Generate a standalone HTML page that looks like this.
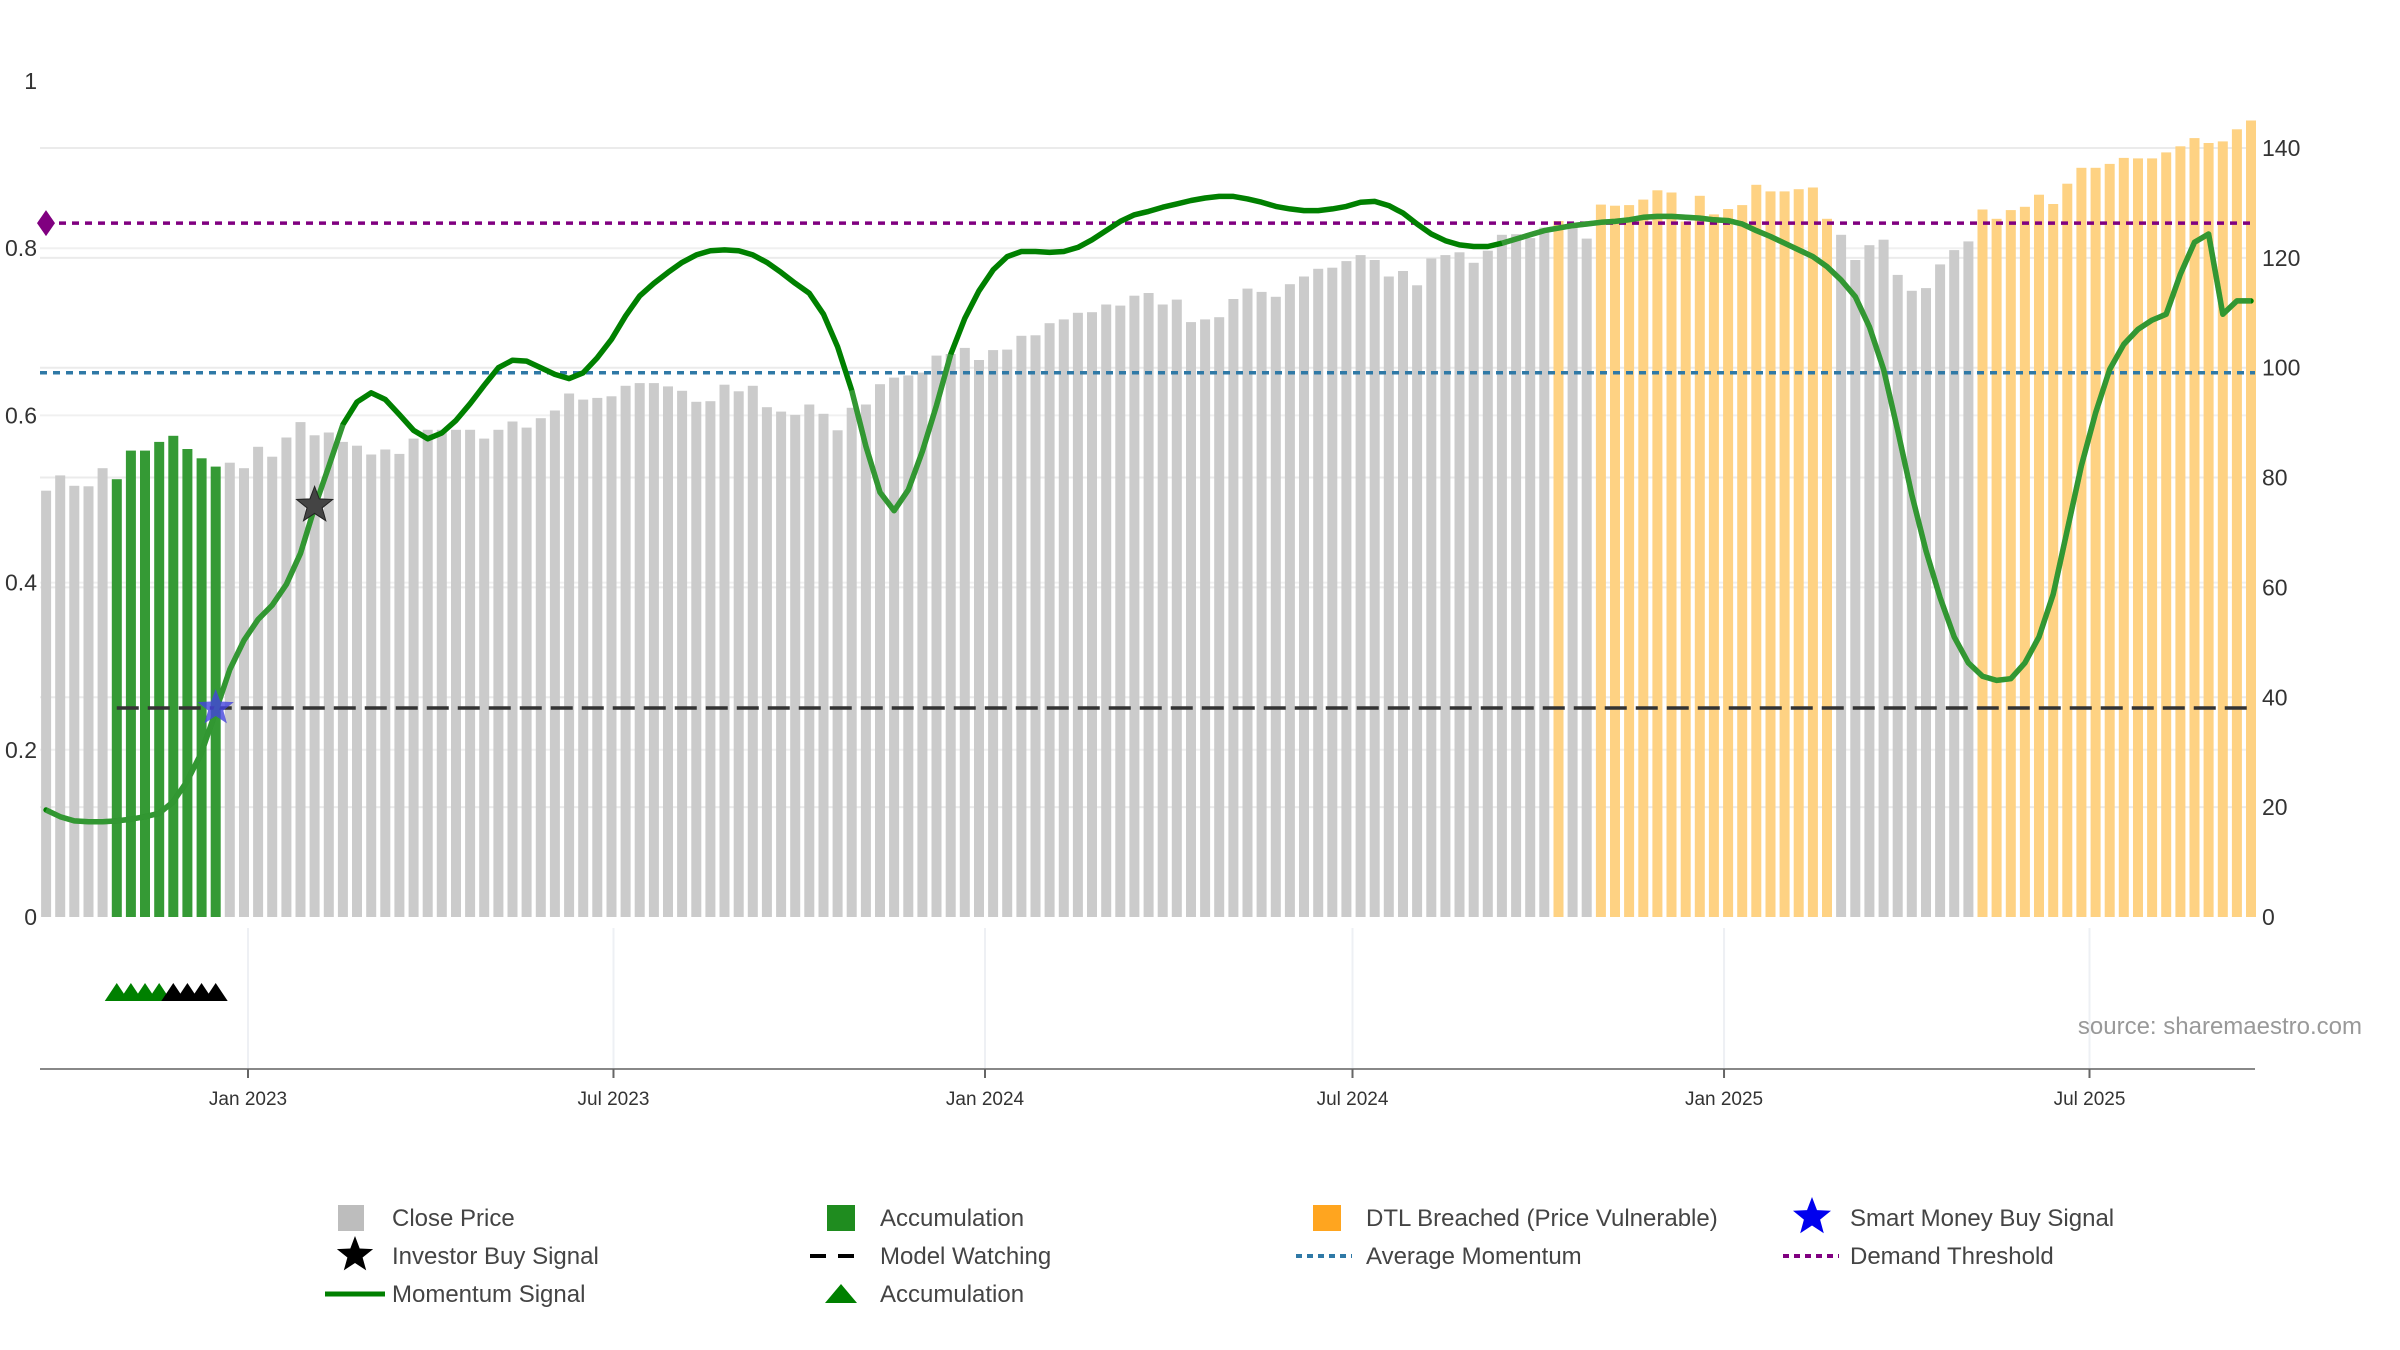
<!DOCTYPE html>
<html><head><meta charset="utf-8"><title>Momentum chart</title>
<style>
html,body{margin:0;padding:0;background:#fff;}
svg{display:block;font-family:"Liberation Sans",sans-serif;}
</style></head>
<body>
<svg id="chart" width="2400" height="1350" viewBox="0 0 2400 1350" xmlns="http://www.w3.org/2000/svg">
  <g id="grid"></g>
  <g id="bars"></g>
  <g id="refs"></g>
  <g id="lines"></g>
  <g id="marks"></g>
  <g id="axes"></g>
  <text x="2362" y="1034" text-anchor="end" font-size="24" fill="#999">source: sharemaestro.com</text>
  <g id="legend"></g>
</svg>
<script>
// ---- data ----
const startDate = "2022-09-23";
const closePrices = [77.6,80.4,78.5,78.4,81.7,79.7,84.9,84.9,86.5,87.6,85.2,83.5,82,82.7,81.7,85.6,83.8,87.3,90.1,87.7,88.2,86.5,85.8,84.2,85.1,84.3,87.1,88.7,88.7,88.7,88.7,87.1,88.7,90.2,89.1,90.8,92.2,95.3,94.2,94.5,94.8,
96.7,97.2,97.2,96.6,95.8,93.8,93.9,96.9,95.7,96.7,92.8,92,91.4,93.3,91.6,88.6,92.7,93.3,97,98.2,98.6,99.1,102.2,102.5,103.6,101.4,103.2,103.3,105.8,105.9,108.1,108.8,110,110.1,111.5,111.3,113.1,113.6,111.5,112.4,108.3,
108.8,109.2,112.5,114.4,113.8,112.9,115.2,116.6,118,118.2,119.4,120.5,119.6,116.6,117.6,115,119.9,120.5,121,119.1,121.3,
124.2,124.3,123.6,125.5,126.7,125.9,123.5,129.7,129.5,129.6,130.6,132.3,131.9,126.6,131.3,127.9,128.9,129.6,133.3,132.1,132.1,132.5,132.8,127.1,124.2,119.6,122.3,123.3,116.9,114,114.5,118.8,121.4,123,128.8,127.1,
128.7,129.3,131.5,129.8,133.5,136.4,136.4,137.1,138.2,138.1,138.1,139.2,140.3,141.8,140.9,141.2,143.4,145];
const momentum = [0.128,0.120,0.115,0.114,0.114,0.115,0.117,0.120,0.124,0.138,0.163,0.197,0.246,0.296,0.331,0.356,0.373,0.398,0.435,0.490,0.539,0.589,0.616,0.627,0.619,0.601,0.582,0.572,0.579,0.594,0.614,0.636,0.657,0.666,0.665,0.657,0.649,0.644,0.651,0.669,0.691,
0.719,0.743,0.758,0.771,0.783,0.792,0.797,0.798,0.797,0.792,0.783,0.771,0.758,0.746,0.721,0.682,0.630,0.563,0.508,0.486,0.511,0.557,0.612,0.673,0.716,0.749,0.774,0.790,0.796,0.796,0.795,0.796,0.801,0.810,0.821,0.832,0.840,0.844,0.849,0.853,0.857,
0.860,0.862,0.862,0.859,0.855,0.850,0.847,0.845,0.845,0.847,0.850,0.855,0.856,0.851,0.842,0.829,0.817,0.809,0.804,0.802,0.802,
0.806,0.811,0.816,0.821,0.824,0.827,0.829,0.831,0.832,0.834,0.837,0.838,0.838,0.837,0.836,0.834,0.833,0.829,0.821,0.814,0.806,0.798,0.790,0.778,0.762,0.742,0.706,0.655,0.582,0.505,0.438,0.382,0.335,0.304,0.288,0.283,0.285,0.304,0.335,0.386,0.463,0.540,0.603,0.655,0.685,0.703,0.714,0.721,0.769,0.807,0.817,0.721,0.737,0.737];
const accumulationBars = [5,6,7,8,9,10,11,12];
const dtlBars = [107,110,111,112,113,114,115,116,117,118,119,120,121,122,123,124,125,126,137,138,139,140,141,142,143,144,145,146,147,148,149,150,151,152,153,154,155,156];
const lightRanges = [[0,21],[57,64],[103,156]];
const accumTriangles = [5,6,7,8];
const watchTriangles = [9,10,11,12];
const investorBuy = [19];
const smartMoneyBuy = [12];
const avgMomentum = 0.651;
const demandThreshold = 0.83;
const modelWatching = 0.25;
const modelWatchStart = 5;
const leftTicks = [0,0.2,0.4,0.6,0.8,1];
const leftTickLabels = ["0","0.2","0.4","0.6","0.8","1"];
const rightTicks = [0,20,40,60,80,100,120,140];
const xTickDates = ["2023-01-01","2023-07-01","2024-01-01","2024-07-01","2025-01-01","2025-07-01"];
const xTickLabels = ["Jan 2023","Jul 2023","Jan 2024","Jul 2024","Jan 2025","Jul 2025"];

// ---- scales ----
const NS="http://www.w3.org/2000/svg";
const DAY=86400000, ORIGIN=Date.UTC(2023,0,1);
function parseD(s){const p=s.split("-");return Date.UTC(+p[0],+p[1]-1,+p[2]);}
function xDate(t){return 248+((t-ORIGIN)/DAY)*2.0192;}
function xIdx(k){return xDate(parseD(startDate)+k*7*DAY);}
function yL(v){return 917-836*v;}
function yR(v){return 917-5.493*v;}
const PL=40, PR=2255;
function mk(tag,attrs,parent){const e=document.createElementNS(NS,tag);for(const a in attrs)e.setAttribute(a,attrs[a]);parent.appendChild(e);return e;}
function starPts(cx,cy,R,r){let p=[];for(let i=0;i<10;i++){const a=-Math.PI/2+i*Math.PI/5;const rr=i%2?r:R;p.push((cx+rr*Math.cos(a)).toFixed(1)+","+(cy+rr*Math.sin(a)).toFixed(1));}return p.join(" ");}

const grid=document.getElementById("grid");
rightTicks.forEach(v=>{if(v===0)return;const g=mk("line",{x1:PL,x2:PR,y1:yR(v),y2:yR(v),stroke:"#ebebeb","stroke-width":2},grid);

});
leftTicks.forEach(v=>{if(v===0||v===1)return;const g=mk("line",{x1:PL,x2:PR,y1:yL(v),y2:yL(v),stroke:"#f0f0f0","stroke-width":2},grid);

});
xTickDates.forEach(d=>{const x=xDate(parseD(d));const g=mk("line",{x1:x,x2:x,y1:928,y2:1069,stroke:"#eef0f4","stroke-width":2},grid);

});

// bars
const bars=document.getElementById("bars");
closePrices.forEach((v,k)=>{
  let fill="#cbcbcb";
  if(accumulationBars.includes(k))fill="#359a35";
  if(dtlBars.includes(k))fill="#fed283";
  const x=xIdx(k);
  const r=mk("rect",{x:(x-5).toFixed(1),y:yR(v).toFixed(1),width:10,height:(yR(0)-yR(v)).toFixed(1),fill:fill},bars);
  
  
});

// reference lines
const refs=document.getElementById("refs");
let l1=mk("line",{x1:PL,x2:PR,y1:yL(avgMomentum),y2:yL(avgMomentum),stroke:"#2f79a6","stroke-width":3.5,"stroke-dasharray":"7,6"},refs);


let l2=mk("line",{x1:46,x2:PR,y1:yL(demandThreshold),y2:yL(demandThreshold),stroke:"#800080","stroke-width":3.5,"stroke-dasharray":"7,6"},refs);


let l3=mk("line",{x1:xIdx(modelWatchStart),x2:PR,y1:yL(modelWatching),y2:yL(modelWatching),stroke:"#333","stroke-width":3.5,"stroke-dasharray":"22,9"},refs);


let dm=mk("polygon",{points:[46-9,yL(demandThreshold),46,yL(demandThreshold)-13,46+9,yL(demandThreshold),46,yL(demandThreshold)+13].join(" "),fill:"#800080"},refs);



// momentum line
const lines=document.getElementById("lines");
const pts=momentum.map((v,k)=>xIdx(k).toFixed(1)+","+yL(v).toFixed(1));
let pl=mk("polyline",{points:pts.join(" "),fill:"none",stroke:"#008000","stroke-width":5.5,"stroke-linejoin":"round","stroke-linecap":"round"},lines);


lightRanges.forEach(rg=>{
  const sub=pts.slice(rg[0],rg[1]+1);
  const s=mk("polyline",{points:sub.join(" "),fill:"none",stroke:"#c9dcc9","stroke-opacity":0.25,"stroke-width":5.5,"stroke-linejoin":"round"},lines);
  
  
});

// markers
const marks=document.getElementById("marks");
investorBuy.forEach(k=>{const s=mk("polygon",{points:starPts(xIdx(k),yL(momentum[k])-2,19,8),fill:"#444",stroke:"#222","stroke-width":1},marks);

});
smartMoneyBuy.forEach(k=>{const s=mk("polygon",{points:starPts(xIdx(k),yL(modelWatching),19,8),fill:"#4444dd","fill-opacity":0.8},marks);

});
accumTriangles.forEach(k=>{const x=xIdx(k);const t=mk("polygon",{points:`${x-12},1001 ${x},983 ${x+12},1001`,fill:"#008000"},marks);

});
watchTriangles.forEach(k=>{const x=xIdx(k);const t=mk("polygon",{points:`${x-12},1001 ${x},983 ${x+12},1001`,fill:"#000"},marks);

});

// axes
const axes=document.getElementById("axes");
let ax=mk("line",{x1:PL,x2:PR,y1:1069,y2:1069,stroke:"#888","stroke-width":2},axes);


xTickDates.forEach((d,i)=>{const x=xDate(parseD(d));
  const t=mk("line",{x1:x,x2:x,y1:1069,y2:1078,stroke:"#666","stroke-width":2},axes);
  
  
  const tx=mk("text",{x:x,y:1105,"text-anchor":"middle","font-size":19,fill:"#333"},axes);tx.textContent=xTickLabels[i];
  
  });
leftTicks.forEach((v,i)=>{const tx=mk("text",{x:37,y:yL(v)+8,"text-anchor":"end","font-size":23,fill:"#333"},axes);tx.textContent=leftTickLabels[i];
  
  });
rightTicks.forEach(v=>{const tx=mk("text",{x:2262,y:yR(v)+8,"font-size":23,fill:"#333"},axes);tx.textContent=String(v);
  
  });

// legend
const leg=document.getElementById("legend");
const rows=[1218,1256,1294];
function ltext(x,y,s){const t=mk("text",{x:x,y:y+8,"font-size":24,fill:"#444"},leg);t.textContent=s;
  
  }
function lsym(el,n){}
lsym(mk("rect",{x:338,y:rows[0]-13,width:26,height:26,fill:"#bdbdbd"},leg),'legend-close-price');
ltext(392,rows[0],"Close Price");
lsym(mk("polygon",{points:starPts(355,rows[1]-1,19,8),fill:"#000"},leg),'legend-investor-buy');
ltext(392,rows[1],"Investor Buy Signal");
lsym(mk("line",{x1:325,x2:385,y1:rows[2],y2:rows[2],stroke:"#008000","stroke-width":5},leg),'legend-momentum');
ltext(392,rows[2],"Momentum Signal");
lsym(mk("rect",{x:827,y:rows[0]-13,width:28,height:26,fill:"#1f8c1f"},leg),'legend-accumulation-bar');
ltext(880,rows[0],"Accumulation");
lsym(mk("line",{x1:810,x2:866,y1:rows[1],y2:rows[1],stroke:"#000","stroke-width":4,"stroke-dasharray":"16,12"},leg),'legend-model-watching');
ltext(880,rows[1],"Model Watching");
lsym(mk("polygon",{points:`825,${rows[2]+9} 841,${rows[2]-10} 857,${rows[2]+9}`,fill:"#008000"},leg),'legend-accumulation-triangle');
ltext(880,rows[2],"Accumulation");
lsym(mk("rect",{x:1313,y:rows[0]-13,width:28,height:26,fill:"#ffa51f"},leg),'legend-dtl-breached');
ltext(1366,rows[0],"DTL Breached (Price Vulnerable)");
lsym(mk("line",{x1:1296,x2:1352,y1:rows[1],y2:rows[1],stroke:"#2f79a6","stroke-width":4,"stroke-dasharray":"6,5"},leg),'legend-average-momentum');
ltext(1366,rows[1],"Average Momentum");
lsym(mk("polygon",{points:starPts(1812,rows[0]-1,20,8.5),fill:"#0000ee"},leg),'legend-smart-money');
ltext(1850,rows[0],"Smart Money Buy Signal");
lsym(mk("line",{x1:1783,x2:1839,y1:rows[1],y2:rows[1],stroke:"#800080","stroke-width":4,"stroke-dasharray":"6,5"},leg),'legend-demand-threshold');
ltext(1850,rows[1],"Demand Threshold");
</script>
</body></html>
